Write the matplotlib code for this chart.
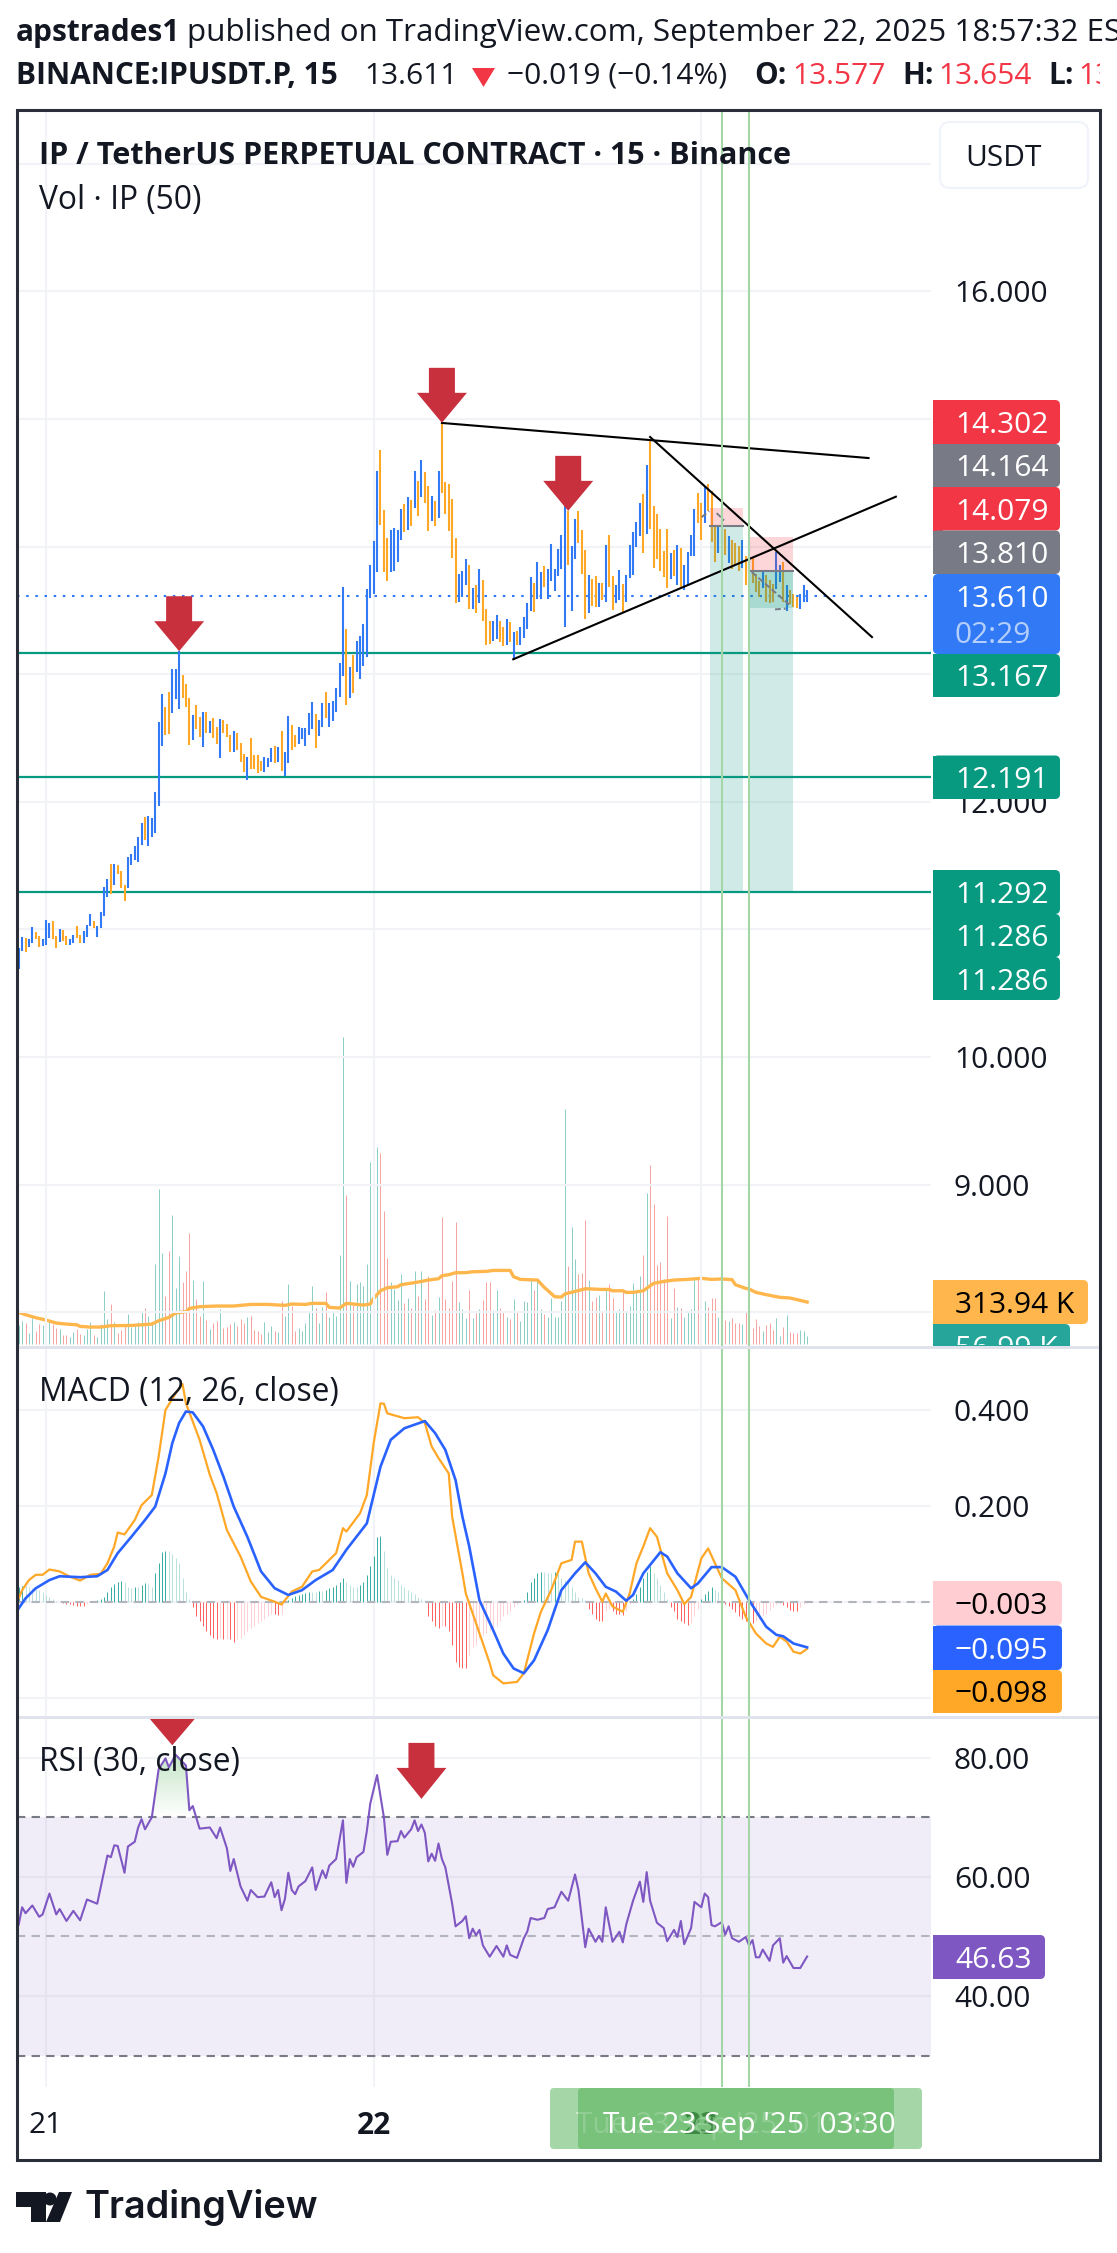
import numpy as np
import matplotlib
matplotlib.use("Agg")
import matplotlib.pyplot as plt
from matplotlib.patches import FancyBboxPatch, Polygon, Rectangle, Circle

plt.rcParams['font.family'] = ['Open Sans', 'DejaVu Sans']

W, H = 1117, 2253

# candles (B = up, O = down)
bar_dirs = ("BBOBBOOBBB" "OOBOOBBOOB" "BBOBBBBOBO" "OOBBBBBOBB" "BBBOOBBBOO" "OBOOBOBOOB" "OOOBOOOBOO" "OOBBBO"
            "BOBBOOBBBB" "BOBBOBBBBB"
            "OBOBBBBBBB" "OOOBBBBOBO" "BOBOOBOBOO" "OOOBBBOBOB" "OOOBBOOBOB" "OBBBBOBBOB"
            "BBBBBOBBOO" "OBOOBOBOOB" "BOBBBBBOBO" "OOOOOBOBOB" "BBBOOBOOOB" "BOBOOOBOBO" "OOBOOOBBOB" "OOOBBB")
bar_high = [10.856, 10.942, 10.932, 10.927, 11.021, 10.982, 10.950, 10.927, 11.076, 11.052,
            11.068, 10.950, 11.005, 10.997, 10.950, 10.927, 10.958, 11.029, 10.958, 10.990,
            11.037, 11.123, 11.068, 11.029, 11.139, 11.335, 11.397, 11.515, 11.515, 11.507,
            11.460, 11.350, 11.570, 11.593, 11.656, 11.727, 11.837, 11.884, 11.892, 11.876,
            12.080, 12.629, 12.841, 12.739, 12.864, 13.037, 13.037, 13.178, 12.997, 12.927,
            12.817, 12.684, 12.762, 12.668, 12.707, 12.707, 12.637, 12.660, 12.590, 12.652,
            12.644, 12.613, 12.527, 12.558, 12.542, 12.464, 12.378, 12.354, 12.503, 12.370,
            12.370, 12.323, 12.354, 12.346, 12.425, 12.441,
            12.428, 12.553, 12.387, 12.671, 12.601, 12.521, 12.585, 12.578, 12.578, 12.693,
            12.780, 12.690, 12.639, 12.773, 12.859, 12.773, 12.789, 12.888, 13.089, 13.681,
            13.358, 13.060, 13.154, 13.264, 13.303, 13.397, 13.671, 13.859, 14.047, 14.595,
            14.760, 14.290, 14.070, 14.133, 14.149, 14.133, 14.298, 14.337, 14.392, 14.368,
            14.595, 14.517, 14.681, 14.587, 14.478, 14.399, 14.360, 14.595, 14.971, 14.509,
            14.493, 14.376, 14.070, 13.789, 13.812, 13.906, 13.859, 13.679, 13.702, 13.828,
            13.742, 13.507, 13.413, 13.420, 13.467, 13.420, 13.366, 13.431, 13.407, 13.334,
            13.342, 13.373, 13.452, 13.561, 13.765, 13.718, 13.883, 13.798, 13.846, 13.822,
            14.023, 13.828, 13.984, 14.094, 14.390, 14.281, 14.008, 14.218, 14.281, 14.132,
            13.977, 13.775, 13.743, 13.766, 13.718, 13.718, 14.016, 14.094, 13.766, 13.696,
            13.813, 13.706, 13.775, 14.016, 14.117, 14.195, 14.343, 14.413, 14.639, 14.842,
            14.319, 14.257, 14.140, 13.969, 14.140, 13.953, 13.977, 14.016, 13.992, 13.852,
            13.961, 14.088, 14.296, 14.421, 14.343, 14.475, 14.491, 14.436, 14.164, 14.164,
            14.210, 14.140, 14.086, 14.055, 14.031, 14.008, 14.055, 13.930, 14.047, 13.914,
            13.782, 13.727, 13.813, 13.774, 13.735, 13.706, 13.961, 13.852, 13.883, 13.696,
            13.657, 13.626, 13.602, 13.626, 13.696, 13.657]
bar_low = [10.692, 10.833, 10.825, 10.864, 10.895, 10.924, 10.864, 10.872, 10.880, 10.935,
           10.927, 10.856, 10.903, 10.911, 10.880, 10.880, 10.895, 10.935, 10.895, 10.895,
           10.942, 11.029, 11.013, 10.942, 11.013, 11.107, 11.256, 11.280, 11.350, 11.437,
           11.327, 11.225, 11.327, 11.507, 11.546, 11.531, 11.664, 11.703, 11.656, 11.727,
           11.758, 11.970, 12.441, 12.527, 12.535, 12.699, 12.809, 12.731, 12.817, 12.739,
           12.448, 12.488, 12.574, 12.511, 12.433, 12.542, 12.542, 12.503, 12.456, 12.346,
           12.542, 12.511, 12.393, 12.393, 12.409, 12.315, 12.237, 12.174, 12.260, 12.260,
           12.229, 12.244, 12.237, 12.276, 12.315, 12.307,
           12.313, 12.243, 12.201, 12.307, 12.409, 12.428, 12.450, 12.489, 12.441, 12.521,
           12.572, 12.419, 12.514, 12.588, 12.658, 12.588, 12.636, 12.700, 12.818, 12.982,
           12.762, 12.817, 12.849, 13.021, 12.966, 13.068, 13.138, 13.601, 13.632, 13.804,
           14.172, 13.804, 13.734, 13.804, 13.812, 13.883, 14.055, 14.117, 14.133, 14.164,
           14.305, 14.243, 14.392, 14.345, 14.125, 14.204, 14.164, 14.227, 14.423, 14.258,
           14.125, 13.914, 13.554, 13.569, 13.608, 13.702, 13.507, 13.514, 13.483, 13.554,
           13.413, 13.232, 13.240, 13.264, 13.279, 13.256, 13.222, 13.225, 13.250, 13.115,
           13.225, 13.232, 13.287, 13.358, 13.499, 13.491, 13.593, 13.593, 13.682, 13.593,
           13.727, 13.649, 13.766, 13.821, 13.368, 13.852, 13.494, 13.906, 14.031, 13.782,
           13.431, 13.479, 13.532, 13.525, 13.525, 13.579, 13.564, 13.681, 13.501, 13.556,
           13.579, 13.488, 13.564, 13.751, 13.774, 14.000, 14.086, 13.953, 14.101, 14.140,
           13.836, 13.906, 13.805, 13.758, 13.673, 13.743, 13.766, 13.696, 13.681, 13.657,
           13.696, 13.930, 13.930, 14.187, 14.055, 14.187, 14.281, 14.039, 13.883, 13.953,
           14.023, 13.938, 13.875, 13.821, 13.852, 13.805, 13.836, 13.696, 13.797, 13.712,
           13.642, 13.603, 13.673, 13.564, 13.558, 13.564, 13.665, 13.719, 13.564, 13.494,
           13.548, 13.525, 13.517, 13.509, 13.564, 13.564]

# volume per bar in thousands
vol_vals = [142, 172, 157, 82, 194, 97, 149, 142, 291, 172, 149, 120, 112, 67, 67, 52, 90, 112, 75, 67,
            112, 164, 67, 52, 149, 396, 187, 299, 164, 82, 105, 134, 224, 127, 134, 164, 239, 269, 209, 149,
            598, 1158, 680, 359, 695, 964, 418, 657, 463, 545, 829, 478, 336, 209, 471, 179, 112, 157, 172, 261,
            120, 127, 149, 164, 134, 187, 157, 202, 209, 105, 97, 75, 164, 90, 134, 97, 90, 321, 209, 448,
            284, 97, 120, 97, 157, 247, 433, 269, 157, 276, 388, 202, 239, 209, 665, 2295, 1113, 471, 291, 448,
            463, 433, 598, 1360, 1591, 1472, 1427, 994, 642, 463, 411, 329, 523, 306, 344, 269, 545,
            359, 545, 336, 508, 217, 254, 351, 949, 336, 269, 471, 911, 314, 261, 194, 403, 194, 232, 261, 329,
            463, 463, 254, 403, 269, 247, 202, 187, 336, 239, 172, 321, 314, 478, 403, 486, 261, 224, 202, 344,
            202, 202, 321, 1755, 583, 874, 635, 523, 530, 926, 478, 321, 351, 366, 247, 403, 448, 344, 247, 261,
            388, 239, 284, 456, 388, 508, 665, 1128, 1337, 1046, 590, 613, 486, 956, 194, 418, 276, 269, 202, 239,
            261, 478, 500, 441, 321, 276, 344, 344, 202, 127, 179, 172, 194, 157, 157, 149, 239, 194, 120, 187,
            134, 97, 142, 157, 105, 194, 60, 127, 217, 90, 82, 82, 105, 97, 60]
vol_ma_idx = [0, 2, 5, 8, 11, 14, 17, 18, 21, 24, 27, 33, 39, 41, 44, 46, 49, 50, 53, 58, 63, 68, 73, 78, 80, 84, 86,
              90, 91, 94, 96, 98, 101, 103, 104, 106, 108, 111, 112, 117, 120, 123, 124, 126, 128, 131, 133, 137,
              139, 144, 145, 147, 152, 154, 156, 157, 159, 160, 163, 166, 171, 173, 174, 177, 178, 180, 183, 186,
              189, 192, 196, 200, 203, 206, 209, 210, 213, 214, 216, 219, 223, 226, 231]
vol_ma_vals = [237, 219, 197, 179, 157, 149, 144, 132, 127, 127, 137, 139, 149, 174, 199, 232, 242, 266, 279, 284, 284,
               296, 296, 289, 299, 296, 304, 304, 274, 269, 304, 299, 291, 299, 341, 398, 421, 428, 443, 463, 478,
               488, 510, 518, 533, 533, 540, 543, 550, 550, 503, 483, 478, 423, 378, 354, 351, 374, 393, 413, 408,
               408, 398, 398, 386, 386, 398, 453, 468, 478, 483, 491, 483, 486, 481, 443, 416, 411, 386, 369, 349,
               344, 314]

# MACD pane
macd_idx = [0, 1, 3, 5, 7, 9, 12, 15, 18, 21, 24, 26, 28, 29, 31, 34, 36, 39, 41, 43, 46, 48, 49, 53, 56, 58, 61, 65,
            68, 71, 75, 77, 80, 83, 86, 88, 93, 95, 96, 100, 102, 104, 106, 107, 108, 113, 117, 119, 121, 123, 126,
            127, 130, 131, 134, 138, 139, 142, 146, 148, 151, 153, 156, 159, 162, 163, 165, 167, 169, 171, 172,
            174, 177, 179, 181, 183, 185, 187, 190, 193, 195, 197, 200, 202, 204, 206, 210, 213, 216, 219, 221,
            223, 225, 227, 229, 231]
macd_vals = [.007, .024, .045, .056, .056, .067, .063, .052, .044, .056, .058, .080, .115, .144, .140, .170, .201, .222,
             .302, .399, .434, .453, .413, .337, .264, .226, .149, .094, .042, .010, 0, -.006, .021, .031, .063, .066,
             .101, .153, .146, .184, .222, .330, .413, .412, .392, .382, .384, .372, .323, .299, .267, .177, .059, .017,
             -.045, -.128, -.153, -.170, -.167, -.149, -.066, -.021, .024, .080, .087, .125, .125, .059, .028, 0, .017,
             -.010, -.021, .017, .080, .115, .153, .135, .059, .024, -.005, .010, .090, .111, .080, .049, .024, -.031,
             -.066, -.087, -.094, -.073, -.083, -.104, -.108, -.098]
signal_idx = [0, 2, 5, 9, 12, 18, 23, 26, 29, 33, 37, 40, 43, 45, 47, 49, 51, 54, 57, 60, 63, 67, 71, 75, 79, 83, 87,
              92, 96, 102, 106, 109, 113, 119, 122, 125, 128, 130, 132, 135, 139, 142, 145, 148, 151, 155, 159, 163,
              166, 169, 172, 175, 178, 180, 183, 188, 190, 193, 197, 199, 203, 206, 210, 214, 219, 222, 224, 227, 231]
signal_vals = [-.014, .007, .028, .045, .053, .051, .053, .066, .101, .135, .170, .198, .267, .330, .372, .396, .394,
               .365, .316, .260, .198, .135, .063, .028, .014, .024, .045, .066, .108, .163, .281, .337, .361, .376,
               .351, .316, .253, .177, .115, .003, -.059, -.108, -.139, -.149, -.122, -.059, .024, .059, .082, .059,
               .031, .021, .002, .014, .059, .103, .094, .059, .028, .038, .072, .072, .052, .003, -.052, -.069, -.072,
               -.087, -.095]
hist_vals = [.03, .032, .032, .03, .028, .026, .024, .02, .014, .01, .006,
             .002, -.001, -.002, -.004, -.004, -.006, -.008, -.008, -.008,
             -.005, .001, .002, .003, .005,
             .01, .02, .03, .037, .04, .044, .04, .03, .028, .03, .03, .034, .038, .036, .03,
             .06, .08, .104, .105, .105, .1, .09, .08, .05, .02, .005,
             -.01, -.03, -.04, -.05, -.06, -.07, -.075, -.077, -.075, -.078, -.077, -.078, -.083, -.078, -.075, -.07,
             -.06, -.055, -.05, -.045, -.04, -.035, -.03, -.025, -.025, -.028, -.025,
             .001, .003, .008, .012, .014, .016, .018, .02, .02, .02, .022, .022, .024, .028, .03, .034, .04, .05, .04,
             .035, .03, .03, .035, .04, .055, .075, .095, .135, .137, .105, .07, .055, .05, .045, .035, .03, .025, .02,
             .015, .01, .005, .003,
             -.03, -.04, -.05, -.055, -.05, -.05, -.06, -.09, -.125, -.135, -.137, -.137, -.11, -.095, -.09, -.075,
             -.07, -.065, -.06, -.055, -.05, -.04, -.03, -.025, -.02, -.012, -.005,
             .001, .004, .02, .04, .05, .06, .062, .062, .06, .06, .062, .06, .05, .045, .04, .03, .02, .01, .008, .004,
             -.016, -.025, -.035, -.04, -.04, -.02, -.015, -.02, -.025, -.025, -.027, -.02, -.005,
             .005, .015, .03, .05, .062, .075, .06, .05, .035, .02, .005,
             -.01, -.02, -.035, -.04, -.045, -.048, -.045, -.03, -.015,
             .005, .015, .022, .03, .025, .02, .005,
             -.005, -.008, -.015, -.022, -.03, -.035, -.04, -.035, -.045, -.04, -.035, -.03, -.025, -.018, -.01, -.005,
             -.004, -.006, -.012, -.018, -.02, -.02, -.012, -.004, -.003]

# RSI pane
rsi_idx = [0, 1, 2, 4, 6, 7, 9, 11, 12, 14, 16, 18, 20, 23, 26, 27, 28, 29, 31, 32, 34, 35, 36, 37, 39, 41, 43, 44, 46,
           49, 50, 51, 53, 56, 58, 59, 61, 62, 63, 65, 67, 68, 70, 72, 74, 75, 76, 77, 78, 79, 80, 81, 82, 84, 86, 87,
           89, 90, 91, 93, 95, 96, 97, 98, 99, 101, 102, 103, 105, 107, 108, 109, 111, 112, 113, 115, 116, 117, 118,
           119, 120, 121, 122, 123, 124, 125, 127, 128, 130, 131, 132, 133, 134, 135, 136, 138, 140, 142, 143, 144,
           146, 148, 149, 150, 152, 154, 155, 157, 159, 161, 163, 164, 166, 167, 169, 170, 171, 172, 174, 176, 177,
           178, 180, 182, 183, 184, 185, 187, 189, 190, 192, 193, 194, 195, 197, 198, 200, 201, 202, 203, 204, 206,
           207, 208, 209, 211, 213, 214, 215, 216, 217, 218, 220, 221, 223, 224, 225, 227, 229, 231]
rsi_vals = [52.0, 54.9, 53.9, 55.2, 53.3, 53.7, 57.2, 53.7, 54.6, 52.6, 54.3, 52.7, 56.2, 55.5, 63.6, 63.3, 65.3, 65.2,
            60.7, 65.1, 65.9, 68.3, 69.7, 68.0, 70.0, 78.1, 79.9, 78.4, 80.5, 78.7, 71.2, 71.9, 68.1, 68.3, 66.5, 68.3,
            64.8, 61.0, 63.0, 58.4, 56.0, 57.8, 56.6, 56.7, 59.1, 56.6, 57.8, 54.4, 56.3, 60.7, 57.8, 57.1, 58.4, 59.3,
            61.6, 57.8, 61.1, 59.8, 61.9, 63.0, 69.5, 59.0, 63.0, 61.7, 63.3, 64.2, 67.7, 72.3, 77.1, 70.0, 63.7, 65.9,
            66.0, 67.7, 66.6, 68.0, 69.5, 67.7, 68.8, 67.4, 62.6, 63.9, 62.7, 65.6, 63.0, 61.6, 55.5, 51.7, 52.6, 53.4,
            49.7, 51.3, 50.2, 51.1, 48.5, 46.6, 48.4, 46.6, 48.5, 46.9, 46.4, 49.7, 50.8, 53.1, 52.8, 53.1, 54.6, 54.9,
            57.5, 56.0, 60.4, 57.8, 48.2, 51.3, 49.1, 50.1, 49.1, 54.9, 49.1, 50.8, 49.0, 52.0, 56.0, 59.2, 55.8, 60.8,
            56.0, 52.3, 51.4, 49.2, 51.1, 49.9, 52.6, 48.7, 51.4, 55.8, 54.9, 57.2, 56.6, 51.9, 51.7, 52.4, 50.3, 51.7,
            49.7, 49.1, 49.9, 48.5, 49.4, 46.5, 46.5, 47.8, 45.9, 48.5, 49.7, 45.6, 46.7, 44.7, 44.7, 46.63]

# levels and drawings
support_levels = [13.167, 12.191, 11.292]
last_price = 13.610
trend_lines = [((124, 14.969), (249, 14.694)), ((144.9, 13.117), (257, 14.391)), ((185, 14.859), (250, 13.291))]
day_idx = [8, 104, 200]
day_labels = ['21', '22', '23']
marker_idx = [206, 214]
price_ticks = [8, 9, 10, 11, 12, 13, 14, 15, 16, 17]
macd_ticks = [-0.2, 0, 0.2, 0.4]
rsi_ticks = [40, 60, 80]

BLUE = '#3179f5'
ORANGE = '#ffa726'
GREEN = '#089981'
GRID = '#f1f3f6'
INK = '#131722'
FRAME = '#2a2e39'
MARK = '#a5d6a7'
ARROW = '#c9303e'


def pane(left, top, right, bottom, **kw):
    return fig.add_axes([left / W, 1 - bottom / H, (right - left) / W, (bottom - top) / H], **kw)


def style_pane(ax, ticks, labels):
    ax.set_xlim(-0.5, 267.3)
    for s in ax.spines.values():
        s.set_visible(False)
    ax.yaxis.tick_right()
    ax.set_yticks(ticks)
    ax.set_yticklabels(labels, fontsize=21.5, color=INK)
    ax.set_xticks(day_idx)
    ax.set_xticklabels([])
    ax.tick_params(length=0)
    ax.tick_params(axis='y', pad=16.5)
    ax.grid(True, color=GRID, lw=1.5)
    ax.set_axisbelow(True)
    for m in marker_idx:
        ax.axvline(m, color=MARK, lw=1.5, zorder=8)


fig = plt.figure(figsize=(W / 100, H / 100), dpi=100, facecolor='white')

idx = np.arange(len(bar_high))

# main pane, volume underneath the candles
vol_ax = pane(17, 112, 931, 1347)
vol_ax.set_xlim(-0.5, 267.3)
vol_ax.set_ylim(-22, 9203)
vol_ax.set_axis_off()
vol_colors = ['#8ccfc6' if d == 'B' else '#f7a5a3' for d in bar_dirs]
vol_ax.vlines(np.arange(len(vol_vals)), 0, vol_vals, colors=vol_colors[:len(vol_vals)], lw=0.72)
vol_ax.plot(vol_ma_idx, vol_ma_vals, color='#ffb74d', lw=2.4, solid_joinstyle='round')

ax = pane(17, 112, 931, 1347, facecolor='none')
ax.set_ylim(7.727, 17.406)
style_pane(ax, price_ticks, ['%.3f' % t for t in price_ticks])

for lvl in support_levels:
    ax.axhline(lvl, color=GREEN, lw=1.6, zorder=3)
ax.axhline(last_price, color=BLUE, lw=1.5, ls=(0, (1.2, 3.2)), zorder=3)

bar_colors = [BLUE if d == 'B' else ORANGE for d in bar_dirs]
ax.vlines(idx, bar_low, bar_high, colors=bar_colors[:len(idx)], lw=1.5, zorder=4)

# short position boxes
for x0, x1, stop, entry, target in [(202.5, 212.3, 14.302, 14.164, 11.286), (214, 227, 14.079, 13.810, 11.286)]:
    ax.fill_between([x0, x1], entry, stop, color='#f23645', alpha=0.2, lw=0, zorder=5)
    ax.fill_between([x0, x1], target, entry, color=GREEN, alpha=0.19, lw=0, zorder=5)
    ax.plot([x0, x1], [entry, entry], color='#787b86', lw=1.5, zorder=6)
ax.fill_between([214, 227], 13.518, 13.810, color=GREEN, alpha=0.2, lw=0, zorder=5)
for seg in [((200.1, 14.231), (202.3, 14.278)), ((204.5, 14.262), (206.7, 14.205)),
            ((214.8, 13.800), (226, 13.540)), ((221.6, 13.508), (224.7, 13.514))]:
    ax.plot(*zip(*seg), color='#787b86', lw=1.4, ls=(0, (3, 1.5)), zorder=6)

for a, b in trend_lines:
    ax.plot([a[0], b[0]], [a[1], b[1]], color='black', lw=1.5, zorder=7)

# MACD pane
macd_ax = pane(17, 1349, 931, 1717)
macd_ax.set_ylim(-0.240, 0.526)
style_pane(macd_ax, macd_ticks, ['-0.200', '', '0.200', '0.400'])
hist_colors = []
prev = 0
for h in hist_vals:
    if h >= 0:
        hist_colors.append('#26a69a' if h > prev else '#b2dfdb')
    else:
        hist_colors.append('#ffcdd2' if h > prev else '#ff5252')
    prev = h
macd_ax.vlines(np.arange(len(hist_vals)), 0, hist_vals, colors=hist_colors, lw=0.65, zorder=3)
macd_ax.axhline(0, color='#b2b5be', lw=1.5, ls=(0, (4, 3)), zorder=3)
macd_ax.plot(macd_idx, macd_vals, color=ORANGE, lw=1.6, zorder=5)
macd_ax.plot(signal_idx, signal_vals, color='#2962ff', lw=1.9, zorder=6)

# RSI pane
rsi_ax = pane(17, 1717, 931, 2087)
rsi_ax.set_ylim(24.72, 86.85)
style_pane(rsi_ax, rsi_ticks, ['40.00', '60.00', '80.00'])
rsi_ax.axhspan(30, 70, color='#7e57c2', alpha=0.1, lw=0, zorder=1)
for lvl, col in [(70, '#787b86'), (30, '#787b86'), (50, '#b2b5be')]:
    rsi_ax.axhline(lvl, color=col, lw=1.5, ls=(0, (4, 3)), zorder=3)
fine_x = np.arange(0, 231.01, 0.25)
fine_y = np.interp(fine_x, rsi_idx, rsi_vals)
shade = rsi_ax.fill_between(fine_x, 70, fine_y, where=fine_y > 70, color='none', lw=0)
grad = np.zeros((64, 2, 4))
grad[..., :3] = matplotlib.colors.to_rgb('#4caf50')
grad[..., 3] = np.linspace(0.38, 0, 64)[:, None]
img = rsi_ax.imshow(grad, extent=[0, 231, 70, 82], aspect='auto', zorder=2, origin='upper')
img.set_clip_path(shade.get_paths()[0], transform=rsi_ax.transData)
rsi_ax.set_xlim(-0.5, 267.3)
rsi_ax.set_ylim(24.72, 86.85)
rsi_ax.plot(rsi_idx, rsi_vals, color='#7e57c2', lw=1.5, zorder=5)
rsi_ax.set_xticklabels(day_labels, fontsize=21.5, color=INK)
rsi_ax.tick_params(axis='x', pad=17)
for lab in rsi_ax.get_xticklabels()[1:]:
    lab.set_fontweight('bold')

# everything in screen pixels on top: header, axis boxes, arrows, logo
top = fig.add_axes([0, 0, 1, 1], facecolor='none')
top.set_xlim(0, W)
top.set_ylim(H, 0)
top.set_axis_off()


def text(x, y, s, size=21.5, color=INK, weight='normal', **kw):
    kw.setdefault('va', 'center_baseline')
    return top.text(x, y, s, fontsize=size, color=color, fontweight=weight, **kw)


def tag(y0, y1, x1, color, s, tcolor='white', x0=933):
    top.add_patch(FancyBboxPatch((x0, y0), x1 - x0, y1 - y0, boxstyle='round,pad=0,rounding_size=5',
                                 fc=color, ec='none', zorder=4))
    top.add_patch(Rectangle((x0, y0), 10, y1 - y0, fc=color, ec='none', zorder=4))
    return text(955, (y0 + y1) / 2, s, color=tcolor, zorder=5)


def arrow(axis, i, val, shaft=True, shaft_w=26, shaft_h=25, head_w=50, head_h=30):
    xd, yd = axis.transData.transform((i, val))
    tx, ty = xd * W / fig.bbox.width, H - yd * H / fig.bbox.height
    pts = [(tx, ty), (tx + head_w / 2, ty - head_h), (tx - head_w / 2, ty - head_h)]
    if shaft:
        pts = pts[:2] + [(tx + shaft_w / 2, ty - head_h), (tx + shaft_w / 2, ty - head_h - shaft_h),
                         (tx - shaft_w / 2, ty - head_h - shaft_h), (tx - shaft_w / 2, ty - head_h)] + pts[2:]
    top.add_patch(Polygon(pts, closed=True, fc=ARROW, ec='none', zorder=3))


# header
text(16, 30, 'apstrades1', weight='bold')
text(187, 30, 'published on TradingView.com, September 22, 2025 18:57:32 ES', size=22.6)
text(16, 73, 'BINANCE:IPUSDT.P, 15', weight='bold')
text(364, 73, '13.611')
top.add_patch(Polygon([(472, 68), (495, 68), (483.5, 87)], closed=True, fc='#f23645', ec='none'))
text(507, 73, '\u22120.019 (\u22120.14%)')
text(754, 73, 'O:', weight='bold')
text(792, 73, '13.577', color='#f23645')
text(902, 73, 'H:', weight='bold')
text(938, 73, '13.654', color='#f23645')
text(1048, 73, 'L:', weight='bold')
low_txt = text(1078, 73, '13.5', color='#f23645', clip_on=True)
low_txt.set_clip_path(Rectangle((0, 0), 1100, 200, transform=top.transData))

# pane titles
text(39, 153, 'IP / TetherUS PERPETUAL CONTRACT \u00b7 15 \u00b7 Binance', size=21.95, weight='bold', zorder=6)
text(39, 196, 'Vol \u00b7 IP (50)', size=22.9, zorder=6)
text(39, 1388, 'MACD (12, 26, close)', size=22.9, zorder=6)
text(39, 1759, 'RSI (30, close)', size=22.9, zorder=6)

# USDT button
top.add_patch(FancyBboxPatch((940, 122), 148, 66, boxstyle='round,pad=0,rounding_size=10',
                             fc='white', ec='#f0f3fa', lw=1.5, zorder=2))
text(965, 155, 'USDT', zorder=3)

# price scale tags
tag(400, 444, 1060, '#f23645', '14.302')
tag(444, 487, 1060, '#787b86', '14.164')
tag(487, 530.5, 1060, '#f23645', '14.079')
tag(530.5, 574, 1060, '#787b86', '13.810')
top.add_patch(FancyBboxPatch((933, 574), 127, 80, boxstyle='round,pad=0,rounding_size=5', fc=BLUE, ec='none', zorder=4))
text(955, 596, '13.610', color='white', zorder=5)
text(955, 632, '02:29', color='#b5cffb', zorder=5)
tag(654, 697, 1060, GREEN, '13.167')
tag(755.5, 799, 1060, GREEN, '12.191')
tag(870, 914, 1060, GREEN, '11.292')
tag(914, 957, 1060, GREEN, '11.286')
tag(957, 1000, 1060, GREEN, '11.286')
tag(1280, 1324, 1088, '#ffb74d', '313.94 K', tcolor='black')
tag(1324, 1352, 1070, '#26a69a', '', x0=933)
vol_txt = text(955, 1346, '56.99 K', color='white', zorder=5, clip_on=True)
vol_txt.set_clip_path(Rectangle((0, 1300), W, 45, transform=top.transData))
tag(1581, 1625, 1062, '#ffcdd2', '\u22120.003', tcolor='black')
tag(1625.5, 1670, 1062, '#2962ff', '\u22120.095')
tag(1670, 1713, 1062, ORANGE, '\u22120.098', tcolor='black')
tag(1935, 1979, 1045, '#7e57c2', '46.63')

# pane separators, the first one also hides the lower part of the clipped volume tag
top.add_patch(Rectangle((19, 1345.5), 1080, 3.5, fc='#e0e3eb', ec='none', zorder=6))
top.add_patch(Rectangle((933, 1349), 140, 5, fc='white', ec='none', zorder=6))
top.add_patch(Rectangle((19, 1716), 1080, 3, fc='#e0e3eb', ec='none', zorder=6))

# red arrows
arrow(ax, 47, 13.180)
arrow(ax, 124, 14.970)
arrow(ax, 161, 14.280)
arrow(rsi_ax, 45, 82.1, shaft=False, head_w=46, head_h=27)
arrow(rsi_ax, 118, 73.1, shaft=True, shaft_w=26, shaft_h=25, head_w=50, head_h=31)

# crosshair time label, two stacked boxes
top.add_patch(FancyBboxPatch((550, 2088), 344, 61, boxstyle='round,pad=0,rounding_size=4', fc='#4caf50', alpha=0.5,
                             ec='none', zorder=3))
text(722, 2122, "Tue 23 Sep '25  01:30", color='white', alpha=0.55, ha='center', zorder=4)
top.add_patch(FancyBboxPatch((578, 2088), 344, 61, boxstyle='round,pad=0,rounding_size=4', fc='#4caf50', alpha=0.5,
                             ec='none', zorder=5))
text(749, 2122, "Tue 23 Sep '25  03:30", color='white', ha='center', zorder=6)

# outer frame
top.add_patch(Rectangle((17, 110), 1083, 2050, fc='none', ec=FRAME, lw=2.2, zorder=9))

# logo
top.add_patch(Polygon([(16, 2192), (46, 2192), (46, 2222), (31, 2222), (31, 2207), (16, 2207)], closed=True, fc=INK, ec='none'))
top.add_patch(Circle((50, 2199), 6.5, fc=INK, ec='none'))
top.add_patch(Polygon([(59, 2192), (72, 2192), (60, 2222), (46, 2222)], closed=True, fc=INK, ec='none'))
top.text(84, 2208, 'TradingView', fontsize=27.3, color=INK, fontweight='semibold', family='Inter', va='center')

fig.savefig('out.png', dpi=100, facecolor='white')
